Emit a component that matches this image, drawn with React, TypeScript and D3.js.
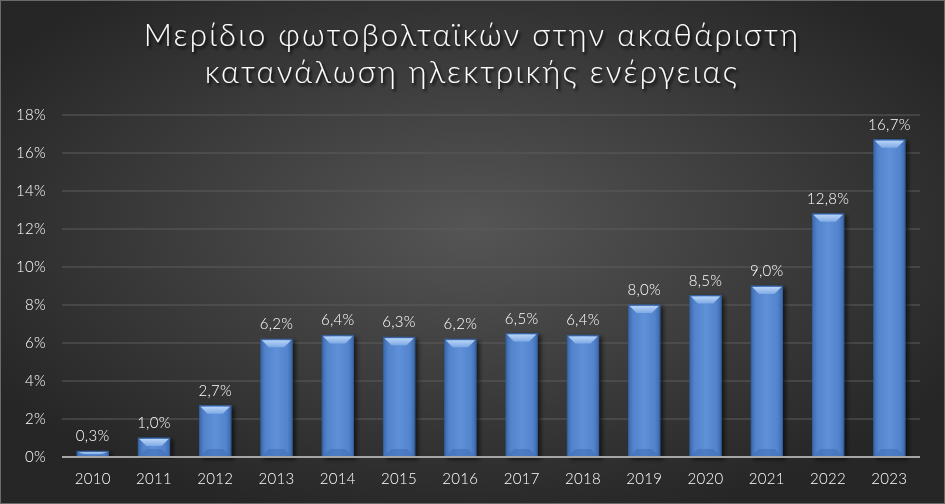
import React from "react";
import * as d3 from "d3";

const years = ["2010","2011","2012","2013","2014","2015","2016","2017","2018","2019","2020","2021","2022","2023"];
const shares = [0.3,1.0,2.7,6.2,6.4,6.3,6.2,6.5,6.4,8.0,8.5,9.0,12.8,16.7];
const yTicks = [0,2,4,6,8,10,12,14,16,18];
const titleLines = ["Μερίδιο φωτοβολταϊκών στην ακαθάριστη","κατανάλωση ηλεκτρικής ενέργειας"];

const W = 945, H = 504;
const FONT = "Lato, 'Noto Sans', sans-serif";

export default function App() {
  const x = d3.scaleBand<string>().domain(years).range([62, 920]).paddingInner(0.49).paddingOuter(0.245);
  const y = d3.scaleLinear().domain([0, 18]).range([457, 115]);
  const fmt = (v: number) => v.toFixed(1).replace(".", ",") + "%";
  const bw = x.bandwidth();
  return (
    <svg width={W} height={H} style={{ position: "fixed", left: 0, top: 0 }} fontFamily={FONT}>
      <defs>
        <radialGradient id="bg" cx="50%" cy="45%" r="60%">
          <stop offset="0%" stopColor="#555555" />
          <stop offset="100%" stopColor="#262626" />
        </radialGradient>
        <linearGradient id="bar" x1="0" x2="1" y1="0" y2="0">
          <stop offset="0%" stopColor="#3d69ad" />
          <stop offset="15%" stopColor="#5283cc" />
          <stop offset="50%" stopColor="#5f91d8" />
          <stop offset="85%" stopColor="#5283cc" />
          <stop offset="100%" stopColor="#3d69ad" />
        </linearGradient>
        <linearGradient id="bevel" x1="0" x2="0" y1="0" y2="1">
          <stop offset="0%" stopColor="#b8d4f6" />
          <stop offset="100%" stopColor="#7faae6" />
        </linearGradient>
        <filter id="tshadow" x="-10%" y="-30%" width="120%" height="160%">
          <feDropShadow dx="2" dy="2.5" stdDeviation="1.5" floodColor="#000" floodOpacity="0.9" />
        </filter>
        <filter id="bshadow" x="-30%" y="-10%" width="160%" height="120%">
          <feDropShadow dx="3" dy="2" stdDeviation="2" floodColor="#000" floodOpacity="0.6" />
        </filter>
      </defs>
      <rect x={0} y={0} width={W} height={H} fill="url(#bg)" />
      <rect x={0.5} y={0.5} width={W - 1} height={H - 1} fill="none" stroke="#6a6a6a" strokeWidth={1} />
      <g filter="url(#tshadow)" fill="#ffffff" fontSize={31} textAnchor="middle" fontWeight={300} letterSpacing={2.3}>
        {titleLines.map((t, i) => (
          <text key={i} x={472} y={46 + i * 37}>{t}</text>
        ))}
      </g>
      {yTicks.map((t) => (
        <g key={t}>
          {t > 0 && <line x1={62} x2={920} y1={y(t)} y2={y(t)} stroke="#5c5c5c" strokeWidth={1} />}
          <text x={46} y={y(t)} dy="0.35em" textAnchor="end" fill="#fff" fontSize={15} fontWeight={300} letterSpacing={0.3}>{t}%</text>
        </g>
      ))}
      {years.map((yr, i) => {
        const x0 = x(yr)!;
        const top = y(shares[i]);
        const h = y(0) - top;
        const bev = Math.min(8, h / 2);
        const ins = Math.min(7, bw / 4);
        return (
          <g key={yr}>
            <g filter="url(#bshadow)">
              <rect x={x0} y={top} width={bw} height={h} fill="url(#bar)" stroke="#35619f" strokeWidth={1} />
            </g>
            <path d={`M${x0 + 1},${top + 1} L${x0 + bw - 1},${top + 1} L${x0 + bw - 1 - ins},${top + bev} L${x0 + 1 + ins},${top + bev} Z`} fill="url(#bevel)" />
            <path d={`M${x0 + 1},${y(0) - 1} L${x0 + bw - 1},${y(0) - 1} L${x0 + bw - 1 - ins},${y(0) - bev} L${x0 + 1 + ins},${y(0) - bev} Z`} fill="#3f6fb5" opacity={0.6} />
            <text x={x0 + bw / 2} y={top - 10} textAnchor="middle" fill="#fff" fontSize={15} fontWeight={300} letterSpacing={0.3}>{fmt(shares[i])}</text>
            <text x={x0 + bw / 2} y={479} dy="0.35em" textAnchor="middle" fill="#fff" fontSize={15} fontWeight={300} letterSpacing={0.3}>{yr}</text>
          </g>
        );
      })}
      <line x1={62} x2={920} y1={y(0)} y2={y(0)} stroke="#a6a6a6" strokeWidth={2} />
    </svg>
  );
}
